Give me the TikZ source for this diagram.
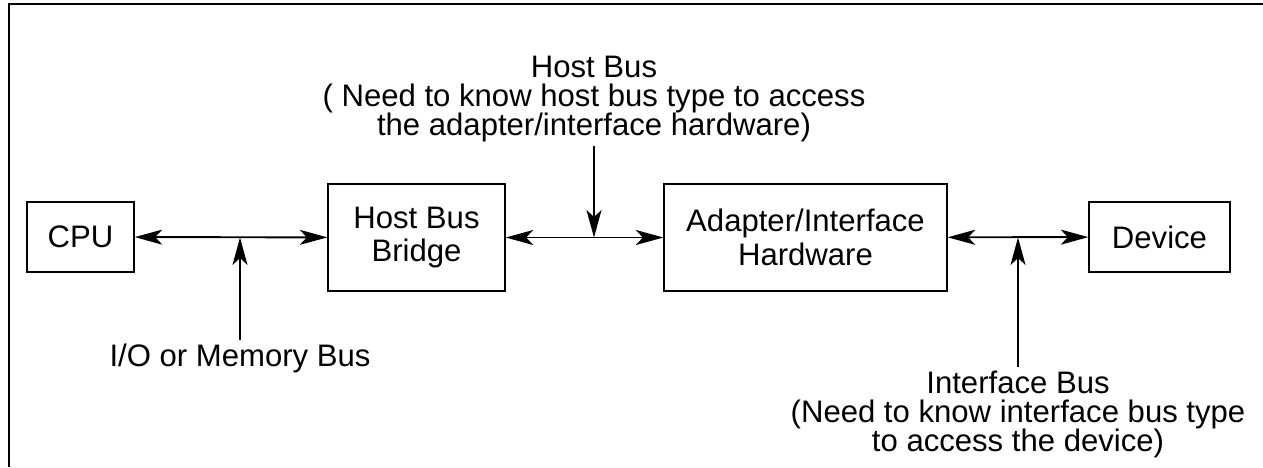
\documentclass[tikz,border=0pt]{standalone}
\usepackage{fontspec}
\setmainfont{Liberation Sans}
\usetikzlibrary{arrows.meta}
\begin{document}
\begin{tikzpicture}[x=0.02cm, y=-0.02cm, >={Stealth[length=0.55cm,width=0.3cm,inset=0.14cm]},
  main node/.style={draw, line width=0.8pt, inner sep=0pt, align=center, font=\fontsize{17.7}{19}\selectfont},
  bus label/.style={inner sep=2pt, align=center, font=\fontsize{17.7}{16.5}\selectfont},
  bus/.style={line width=1.1pt}]
\useasboundingbox (0,0) rectangle (1263,467);
\draw[line width=1.4pt] (9,467) -- (9,4) -- (1263,4);
% boxes
\node [main node, minimum width=2.14cm, minimum height=1.4cm] (cpu) at (80.5,237) {CPU};
\node [main node, minimum width=3.54cm, minimum height=2.14cm] (hbb) at (416.5,237.5) {Host Bus\\Bridge};
\node [main node, minimum width=5.66cm, minimum height=2.14cm] (aih) at (805.5,237.5) {Adapter/Interface\\Hardware};
\node [main node, minimum width=2.82cm, minimum height=1.4cm] (dev) at (1159.5,237) {Device};
% bus taps
\coordinate (j1) at (240,237.5);
\coordinate (j2) at (594,237.5);
\coordinate (j3) at (1018,237.5);
\node [bus label, anchor=north] (memlbl) at (240,340) {I/O or Memory Bus};
\node [bus label, anchor=south] (hostlbl) at (594,146) {Host Bus\\( Need to know host bus type to access\\the adapter/interface hardware)};
\node [bus label, anchor=north] (ifclbl) at (1018,367) {Interface Bus\\(Need to know interface bus type\\to access the device)};
\path [bus]
	(cpu) edge [<->] (hbb)
	(hbb) edge [<->] (aih)
	(aih) edge [<->] (dev)
	(memlbl) edge [->] (j1)
	(hostlbl) edge [->] (j2)
	(ifclbl) edge [->] (j3)
	;
\end{tikzpicture}
\end{document}
